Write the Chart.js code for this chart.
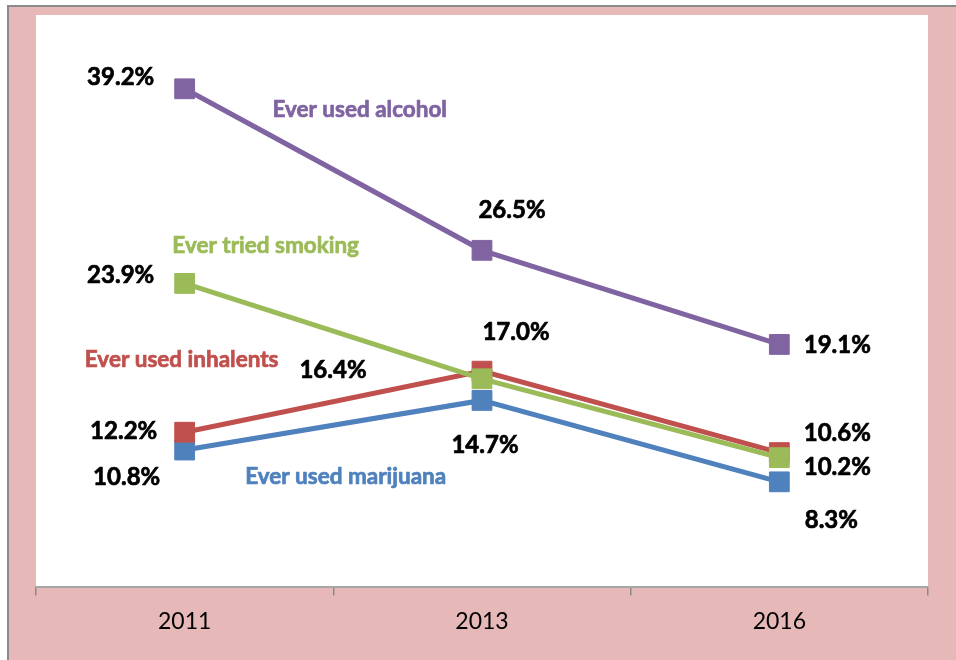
<!DOCTYPE html>
<html>
<head>
<meta charset="utf-8">
<script src="https://cdn.jsdelivr.net/npm/chart.js@4.4.1/dist/chart.umd.min.js"></script>
<style>
html,body{margin:0;padding:0;background:#fff;}
#wrap{width:956px;height:660px;position:relative;}
</style>
</head>
<body>
<div id="wrap"><canvas id="c" width="956" height="660"></canvas></div>
<script>
// ---- data ----
const years = ['2011', '2013', '2016'];
const alcohol = [39.2, 26.5, 19.1];
const smoking = [23.9, 16.4, 10.2];
const inhalants = [12.2, 17.0, 10.6];
const marijuana = [10.8, 14.7, 8.3];
const seriesNames = ['Ever used alcohol', 'Ever tried smoking', 'Ever used inhalents', 'Ever used marijuana'];

// ---- styles ----
const FONT = "Lato, 'Open Sans', 'Liberation Sans', sans-serif";
const colors = ['#8064A2', '#9BBB59', '#C0504D', '#4F81BD'];
// label offsets (px) from each point
const valueOffsets = [
  [[-64, -12], [30, -40], [58, 1]],
  [[-64, -8], [-149, -9], [58, 10]],
  [[-61, -1], [34, -39], [58, -19]],
  [[-58, 27], [3, 45], [52, 38]]
];
// series name offsets from first point
const nameOffsets = [[175, 21], [81, -38], [-3, -72], [161, 27]];

const bgPlugin = {
  id: 'bg',
  beforeDraw(chart) {
    const ctx = chart.ctx, a = chart.chartArea;
    ctx.save();
    ctx.fillStyle = '#fff';
    ctx.fillRect(0, 0, chart.width, chart.height);
    ctx.fillStyle = '#E6B9B8';
    ctx.fillRect(7, 5, chart.width - 7, chart.height - 5);
    ctx.strokeStyle = '#8a8a8a';
    ctx.lineWidth = 2;
    ctx.beginPath();
    ctx.moveTo(8, chart.height);
    ctx.lineTo(8, 6);
    ctx.lineTo(chart.width, 6);
    ctx.stroke();
    ctx.fillStyle = '#fff';
    ctx.fillRect(a.left, a.top, a.right - a.left, a.bottom - a.top);
    ctx.restore();
  }
};

function boldText(ctx, txt, x, y, color) {
  ctx.fillStyle = color;
  ctx.strokeStyle = color;
  ctx.lineWidth = 0.7;
  ctx.lineJoin = 'round';
  ctx.strokeText(txt, x, y);
  ctx.fillText(txt, x, y);
}

const labelPlugin = {
  id: 'labels',
  afterDatasetsDraw(chart) {
    const ctx = chart.ctx;
    ctx.save();
    ctx.textAlign = 'center';
    ctx.textBaseline = 'middle';
    chart.data.datasets.forEach((ds, i) => {
      const meta = chart.getDatasetMeta(i);
      meta.data.forEach((pt, j) => {
        const o = valueOffsets[i][j];
        ctx.font = 'bold 24px ' + FONT;
        boldText(ctx, ds.data[j].toFixed(1) + '%', pt.x + o[0], pt.y + o[1], '#000');
      });
      const p0 = meta.data[0];
      const no = nameOffsets[i];
      ctx.font = 'bold 22.5px ' + FONT;
      boldText(ctx, seriesNames[i], p0.x + no[0], p0.y + no[1], colors[i]);
    });
    ctx.restore();
  }
};

const mk = (label, data, color) => ({
  label, data,
  borderColor: color, backgroundColor: color,
  borderWidth: 5,
  pointStyle: 'rect', pointRadius: 14, pointBorderWidth: 1,
  pointBackgroundColor: color, pointBorderColor: color,
  tension: 0, fill: false
});

new Chart(document.getElementById('c'), {
  type: 'line',
  data: {
    labels: years,
    datasets: [
      mk(seriesNames[0], alcohol, colors[0]),
      mk(seriesNames[1], smoking, colors[1]),
      mk(seriesNames[2], inhalants, colors[2]),
      mk(seriesNames[3], marijuana, colors[3])
    ]
  },
  options: {
    responsive: false,
    animation: false,
    layout: { padding: { left: 36, right: 28, top: 15, bottom: 13 } },
    plugins: { legend: { display: false }, tooltip: { enabled: false } },
    scales: {
      x: {
        offset: true,
        grid: { offset: true, drawOnChartArea: false, drawTicks: true, tickLength: 8, color: '#8a8a8a', lineWidth: 1.5 },
        border: { display: true, color: '#a6a6a6', width: 2 },
        ticks: { color: '#000', font: { family: FONT, size: 23 }, padding: 12 }
      },
      y: { display: false, min: 0, max: 45 }
    }
  },
  plugins: [bgPlugin, labelPlugin]
});
</script>
</body>
</html>
